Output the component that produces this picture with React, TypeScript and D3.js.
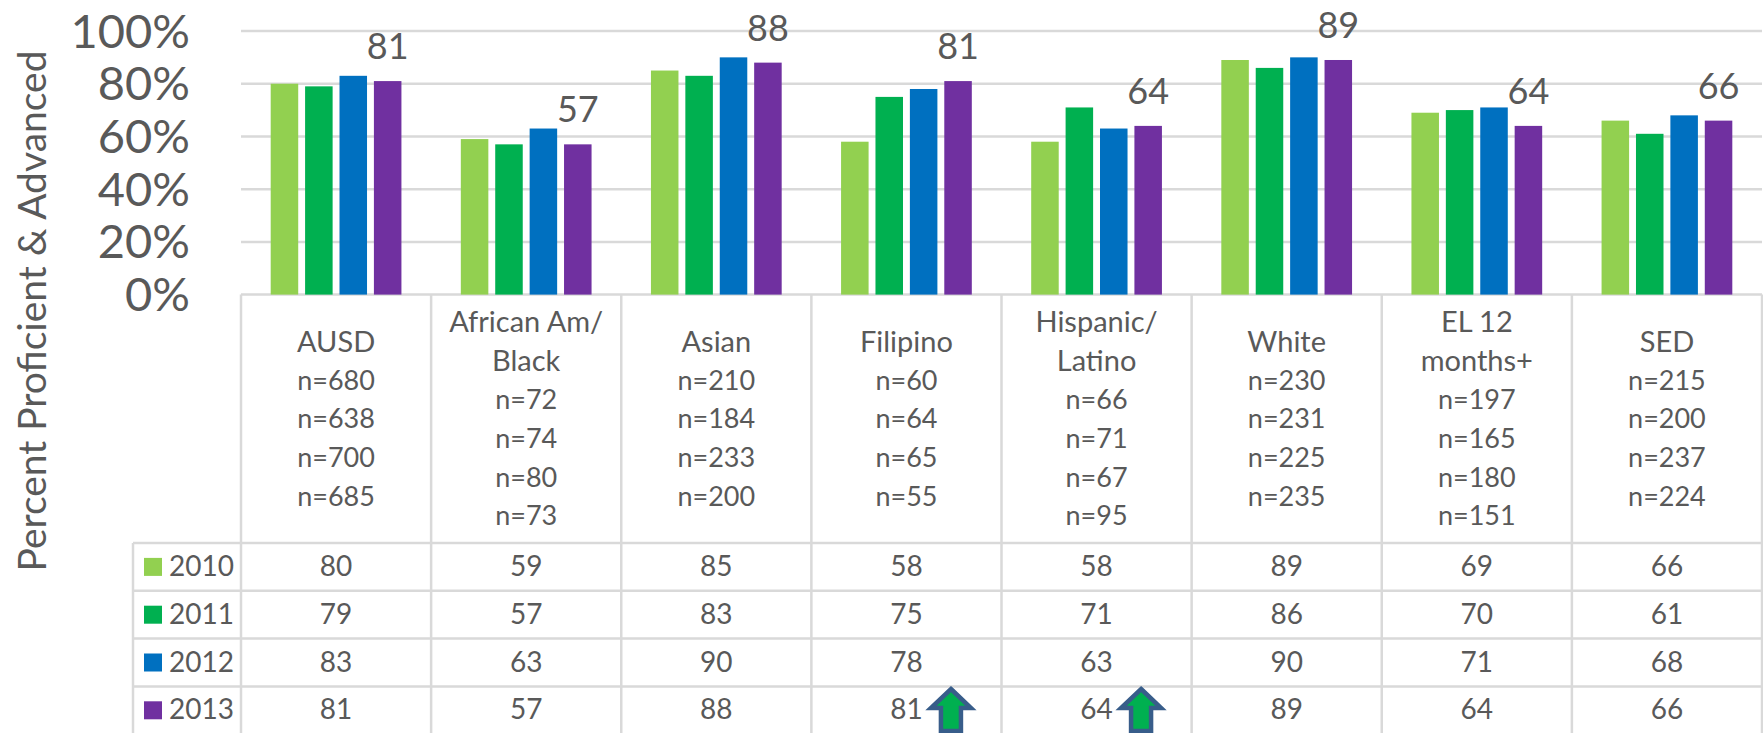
import React, { useRef, useEffect } from 'react';
import * as d3 from 'd3';

const categories = ['AUSD', 'African Am/\nBlack', 'Asian', 'Filipino', 'Hispanic/\nLatino', 'White', 'EL 12\nmonths+', 'SED'];
const years = ['2010', '2011', '2012', '2013'];
const colors = ['#92D050', '#00B050', '#0070C0', '#7030A0'];

const values2010 = [80, 59, 85, 58, 58, 89, 69, 66];
const values2011 = [79, 57, 83, 75, 71, 86, 70, 61];
const values2012 = [83, 63, 90, 78, 63, 90, 71, 68];
const values2013 = [81, 57, 88, 81, 64, 89, 64, 66];
const series = [values2010, values2011, values2012, values2013];

const counts2010 = [680, 72, 210, 60, 66, 230, 197, 215];
const counts2011 = [638, 74, 184, 64, 71, 231, 165, 200];
const counts2012 = [700, 80, 233, 65, 67, 225, 180, 237];
const counts2013 = [685, 73, 200, 55, 95, 235, 151, 224];
const counts = [counts2010, counts2011, counts2012, counts2013];

const yTicks = [0, 20, 40, 60, 80, 100];
const arrowCategories = ['Filipino', 'Hispanic/\nLatino'];

const textColor = '#595959';
const lineColor = '#D9D9D9';
const fontFamily = 'Lato, sans-serif';

const App = () => {
  const svgRef = useRef<SVGSVGElement>(null);

  useEffect(() => {
    const width = 1763;
    const height = 733;
    const left = 241;
    const right = 1762;
    const legendLeft = 133;
    const headerBottom = 543;
    const rowHeight = 47.8;

    const svg = d3.select(svgRef.current)
      .attr('width', width)
      .attr('height', height);
    svg.selectAll('*').remove();

    const x = d3.scaleBand().domain(categories).range([left, right]);
    const yScale = d3.scaleLinear().domain([0, 100]).range([294.6, 31]);
    const inner = d3.scaleBand().domain(years)
      .range([0, x.bandwidth()])
      .paddingInner(0.2)
      .paddingOuter(0.863);

    // gridlines
    svg.append('g')
      .selectAll('line')
      .data(yTicks)
      .join('line')
      .attr('x1', left).attr('x2', right)
      .attr('y1', d => yScale(d)).attr('y2', d => yScale(d))
      .attr('stroke', lineColor).attr('stroke-width', 2.5);

    // y axis
    const yAxis = svg.append('g')
      .attr('transform', 'translate(190,1)')
      .call(d3.axisLeft(yScale).tickValues(yTicks).tickSize(0).tickPadding(0).tickFormat(d => `${d}%`));
    yAxis.select('.domain').remove();
    yAxis.selectAll('text')
      .attr('font-family', fontFamily)
      .attr('font-size', 47)
      .attr('fill', textColor);

    svg.append('text')
      .attr('transform', 'translate(31,311) rotate(-90)')
      .attr('text-anchor', 'middle')
      .attr('dominant-baseline', 'central')
      .attr('font-family', fontFamily)
      .attr('font-size', 39)
      .attr('fill', textColor)
      .text('Percent Proficient & Advanced');

    // bars
    series.forEach((vals, s) => {
      svg.append('g')
        .selectAll('rect')
        .data(vals)
        .join('rect')
        .attr('x', (d, i) => x(categories[i])! + inner(years[s])!)
        .attr('y', d => yScale(d))
        .attr('width', inner.bandwidth())
        .attr('height', d => yScale(0) - yScale(d))
        .attr('fill', colors[s]);
    });

    // labels on the last series
    svg.append('g')
      .selectAll('text')
      .data(values2013)
      .join('text')
      .attr('x', (d, i) => x(categories[i])! + inner('2013')! + inner.bandwidth() / 2)
      .attr('y', d => yScale(d) - 36)
      .attr('text-anchor', 'middle')
      .attr('dominant-baseline', 'central')
      .attr('font-family', fontFamily)
      .attr('font-size', 36)
      .attr('fill', textColor)
      .text(d => d);

    // table lines
    const grid = svg.append('g').attr('stroke', lineColor).attr('stroke-width', 2.5);
    const columnEdges = [...categories.map(c => x(c)!), right];
    columnEdges.forEach(cx => {
      grid.append('line').attr('x1', cx).attr('x2', cx).attr('y1', yScale(0)).attr('y2', height);
    });
    grid.append('line').attr('x1', legendLeft).attr('x2', legendLeft).attr('y1', headerBottom).attr('y2', height);
    years.forEach((yr, r) => {
      const rowY = headerBottom + r * rowHeight;
      grid.append('line').attr('x1', legendLeft).attr('x2', right).attr('y1', rowY).attr('y2', rowY);
    });

    // header cells
    const lineStep = 38.8;
    categories.forEach((c, i) => {
      const names = c.split('\n');
      const lines = [...names, ...counts.map(row => `n=${row[i]}`)];
      const cx = x(c)! + x.bandwidth() / 2;
      const midY = (yScale(0) + headerBottom) / 2 - 1;
      svg.append('g')
        .selectAll('text')
        .data(lines)
        .join('text')
        .attr('x', cx)
        .attr('y', (d, k) => midY + (k - (lines.length - 1) / 2) * lineStep)
        .attr('text-anchor', 'middle')
        .attr('dominant-baseline', 'central')
        .attr('font-family', fontFamily)
        .attr('font-size', (d, k) => (k < names.length ? 29 : 27))
        .attr('fill', textColor)
        .text(d => d);
    });

    // value rows and legend keys
    years.forEach((yr, r) => {
      const midY = headerBottom + (r + 0.5) * rowHeight;
      svg.append('rect')
        .attr('x', 144).attr('y', midY - 9)
        .attr('width', 18).attr('height', 18)
        .attr('fill', colors[r]);
      svg.append('text')
        .attr('x', 169).attr('y', midY - 2)
        .attr('dominant-baseline', 'central')
        .attr('font-family', fontFamily)
        .attr('font-size', 28)
        .attr('fill', textColor)
        .text(yr);
      svg.append('g')
        .selectAll('text')
        .data(series[r])
        .join('text')
        .attr('x', (d, i) => x(categories[i])! + x.bandwidth() / 2)
        .attr('y', midY - 2)
        .attr('text-anchor', 'middle')
        .attr('dominant-baseline', 'central')
        .attr('font-family', fontFamily)
        .attr('font-size', 28)
        .attr('fill', textColor)
        .text(d => d);
    });

    // arrows next to the 2013 values
    arrowCategories.forEach(c => {
      const ax = x(c)! + x.bandwidth() / 2 + 44.5;
      const path = d3.path();
      path.moveTo(ax, 689);
      path.lineTo(ax + 20, 708);
      path.lineTo(ax + 10, 708);
      path.lineTo(ax + 10, 731);
      path.lineTo(ax - 10, 731);
      path.lineTo(ax - 10, 708);
      path.lineTo(ax - 20, 708);
      path.closePath();
      svg.append('path')
        .attr('d', path.toString())
        .attr('fill', '#00B050')
        .attr('stroke', '#385D8A')
        .attr('stroke-width', 4.5);
    });
  }, []);

  return <svg ref={svgRef} style={{ position: 'absolute', top: 0, left: 0, display: 'block', background: '#fff' }}></svg>;
};

export default App;
